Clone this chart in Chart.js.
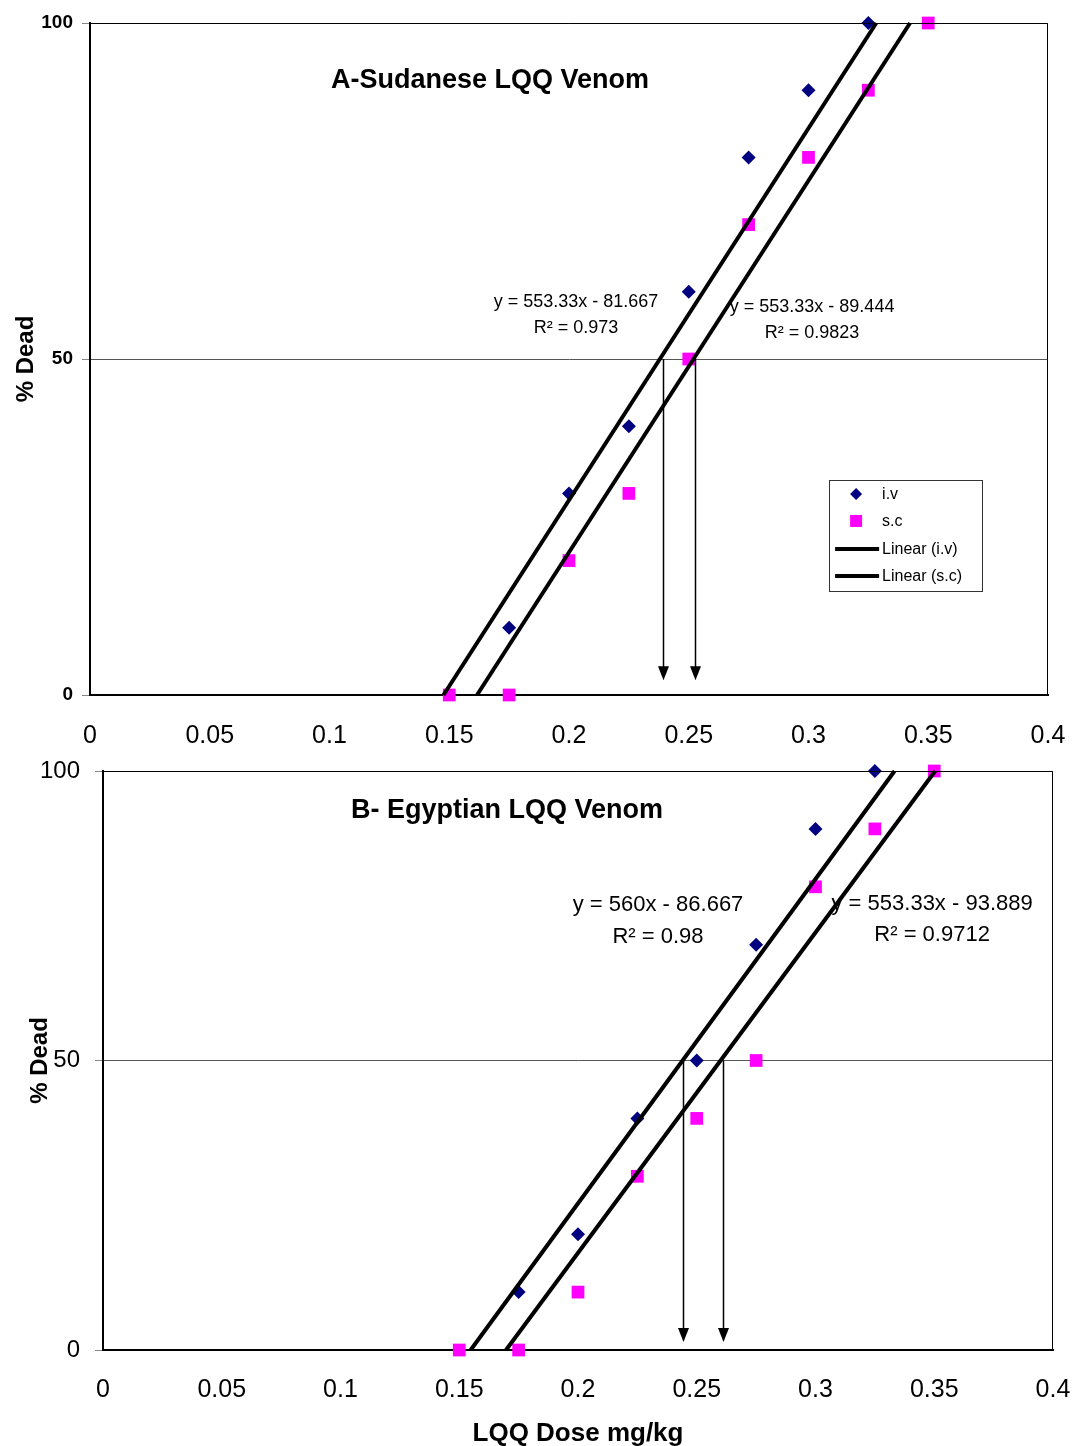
<!DOCTYPE html>
<html>
<head>
<meta charset="utf-8">
<script src="https://cdn.jsdelivr.net/npm/chart.js@4.4.1/dist/chart.umd.min.js"></script>
<style>
  html, body { margin: 0; padding: 0; background: #fff; }
  #wrap { position: relative; width: 1074px; height: 1446px; }
  canvas { position: absolute; left: 0; }
</style>
</head>
<body>
<div id="wrap">
  <canvas id="chartA" width="1074" height="760" style="top:0px"></canvas>
  <canvas id="chartB" width="1074" height="696" style="top:750px"></canvas>
</div>
<script>
const FONT = '"Liberation Sans", Arial, sans-serif';
Chart.defaults.font.family = FONT;
Chart.defaults.color = "#000";

// ---- A - Sudanese LQQ venom ----
const sudanDoseIV = [0.175, 0.2, 0.225, 0.25, 0.275, 0.3, 0.325];
const sudanDeadIV = [10, 30, 40, 60, 80, 90, 100];
const sudanDoseSC = [0.15, 0.175, 0.2, 0.225, 0.25, 0.275, 0.3, 0.325, 0.35];
const sudanDeadSC = [0, 0, 20, 30, 50, 70, 80, 90, 100];
// trendline ends (dose, % dead)
const sudanFitIV = [[0.1476, 0], [0.3283, 100]];
const sudanFitSC = [[0.1616, 0], [0.3424, 100]];
const sudanLD50 = [0.2391, 0.2525];

// ---- B - Egyptian LQQ venom ----
const egyptDoseIV = [0.175, 0.2, 0.225, 0.25, 0.275, 0.3, 0.325];
const egyptDeadIV = [10, 20, 40, 50, 70, 90, 100];
const egyptDoseSC = [0.15, 0.175, 0.2, 0.225, 0.25, 0.275, 0.3, 0.325, 0.35];
const egyptDeadSC = [0, 0, 10, 30, 40, 50, 80, 90, 100];
const egyptFitIV = [[0.1548, 0], [0.3333, 100]];
const egyptFitSC = [[0.1697, 0], [0.3504, 100]];
const egyptLD50 = [0.2443, 0.2609];

const legendLabels = ["i.v", "s.c", "Linear (i.v)", "Linear (s.c)"];

const toPts = (xs, ys) => xs.map((x, i) => ({ x: x, y: ys[i] }));

// no automatic padding for tick labels, layout.padding decides the plot box
function noAutoPad(s) {
  s.paddingLeft = 0;
  s.paddingRight = 0;
  s.paddingTop = 0;
  s.paddingBottom = 0;
}

// draws frame, LD50 arrows, title, equations and legend
const notesPlugin = {
  id: "notes",
  afterDatasetsDraw(chart, args, o) {
    const { ctx, chartArea: a } = chart;
    const x = chart.scales.x, y = chart.scales.y;
    ctx.save();

    // top + right frame
    ctx.strokeStyle = "#000";
    ctx.lineWidth = 1;
    ctx.beginPath();
    ctx.moveTo(a.left, a.top + 0.5);
    ctx.lineTo(a.right - 0.5, a.top + 0.5);
    ctx.lineTo(a.right - 0.5, a.bottom);
    ctx.stroke();

    // arrows down from 50%
    o.arrows.forEach((d) => {
      const px = Math.round(x.getPixelForValue(d)) + 0.5;
      const top = y.getPixelForValue(50);
      const tip = y.getPixelForValue(o.arrowTip);
      ctx.lineWidth = 1.5;
      ctx.beginPath();
      ctx.moveTo(px, top);
      ctx.lineTo(px, tip - 10);
      ctx.stroke();
      ctx.fillStyle = "#000";
      ctx.beginPath();
      ctx.moveTo(px, tip);
      ctx.lineTo(px - 5.5, tip - 14);
      ctx.lineTo(px + 5.5, tip - 14);
      ctx.closePath();
      ctx.fill();
    });

    ctx.textAlign = "center";
    ctx.textBaseline = "middle";
    ctx.fillStyle = "#000";

    ctx.font = "bold " + o.titleSize + "px " + FONT;
    ctx.fillText(o.title, x.getPixelForValue(o.titleAt[0]), y.getPixelForValue(o.titleAt[1]));

    ctx.font = o.eqSize + "px " + FONT;
    o.equations.forEach((e) => {
      ctx.fillText(e.text, x.getPixelForValue(e.at[0]), y.getPixelForValue(e.at[1]));
    });

    if (o.legendAt) {
      const lx = x.getPixelForValue(o.legendAt[0]);
      const ly = y.getPixelForValue(o.legendAt[1]);
      ctx.fillStyle = "#fff";
      ctx.fillRect(lx, ly, 153, 111);
      ctx.strokeStyle = "#333";
      ctx.lineWidth = 1;
      ctx.strokeRect(Math.round(lx) + 0.5, Math.round(ly) + 0.5, 153, 111);
      const rows = [14, 41, 69, 96];
      ctx.font = "16px " + FONT;
      ctx.textAlign = "left";
      rows.forEach((r, i) => {
        const cy = ly + r;
        if (i === 0) {
          ctx.fillStyle = "#000080";
          ctx.beginPath();
          ctx.moveTo(lx + 27, cy - 6);
          ctx.lineTo(lx + 33, cy);
          ctx.lineTo(lx + 27, cy + 6);
          ctx.lineTo(lx + 21, cy);
          ctx.closePath();
          ctx.fill();
        } else if (i === 1) {
          ctx.fillStyle = "#ff00ff";
          ctx.fillRect(lx + 21, cy - 6, 12, 12);
        } else {
          ctx.strokeStyle = "#000";
          ctx.lineWidth = 4;
          ctx.beginPath();
          ctx.moveTo(lx + 6, cy);
          ctx.lineTo(lx + 50, cy);
          ctx.stroke();
        }
        ctx.fillStyle = "#000";
        ctx.fillText(legendLabels[i], lx + 53, cy + 1);
      });
    }
    ctx.restore();
  },
};

function makeChart(id, d) {
  return new Chart(document.getElementById(id), {
    type: "scatter",
    data: {
      datasets: [
        {
          label: "Linear (i.v)",
          data: d.fitIV.map((p) => ({ x: p[0], y: p[1] })),
          showLine: true, borderColor: "#000", borderWidth: 4, pointRadius: 0, order: 0, clip: false,
        },
        {
          label: "Linear (s.c)",
          data: d.fitSC.map((p) => ({ x: p[0], y: p[1] })),
          showLine: true, borderColor: "#000", borderWidth: 4, pointRadius: 0, order: 0, clip: false,
        },
        {
          label: "i.v",
          data: toPts(d.doseIV, d.deadIV),
          pointStyle: "rectRot", pointRadius: 7, backgroundColor: "#000080", borderColor: "#000080",
          borderWidth: 0, order: 1, clip: false,
        },
        {
          label: "s.c",
          data: toPts(d.doseSC, d.deadSC),
          pointStyle: "rect", pointRadius: 9, backgroundColor: "#ff00ff", borderColor: "#ff00ff",
          borderWidth: 0, order: 1, clip: false,
        },
      ],
    },
    options: {
      responsive: false,
      animation: false,
      layout: { padding: d.pad },
      plugins: {
        legend: { display: false },
        tooltip: { enabled: false },
        notes: d.notes,
      },
      scales: {
        x: {
          type: "linear", min: 0, max: 0.4,
          ticks: {
            stepSize: 0.05, padding: d.xTickPad, font: { size: 25 },
            callback: (v) => String(+v.toFixed(2)),
          },
          grid: { display: false },
          border: { display: true, color: "#000", width: 2 },
          title: d.xTitle
            ? { display: true, text: d.xTitle, font: { size: 26, weight: "bold" }, padding: { top: 0, bottom: -3 } }
            : { display: false },
          afterFit: (s) => { s.height = d.xHeight; noAutoPad(s); },
        },
        y: {
          min: 0, max: 100,
          ticks: { stepSize: 50, padding: d.yTickPad, font: d.yTickFont },
          grid: { color: "#555", lineWidth: 1, tickLength: 8, tickColor: "#888" },
          border: { display: true, color: "#000", width: 2 },
          title: {
            display: true, text: "% Dead", font: { size: 24, weight: "bold" },
            padding: { top: d.yTitlePad, bottom: 0 },
          },
          afterFit: (s) => { s.width = d.yWidth; noAutoPad(s); },
        },
      },
    },
    plugins: [notesPlugin],
  });
}

makeChart("chartA", {
  doseIV: sudanDoseIV, deadIV: sudanDeadIV, doseSC: sudanDoseSC, deadSC: sudanDeadSC,
  fitIV: sudanFitIV, fitSC: sudanFitSC,
  pad: { top: 23, right: 26, left: 0, bottom: 0 },
  xTickPad: 18, xHeight: 65, yWidth: 90, yTickPad: 9, yTitlePad: 12,
  yTickFont: { size: 19, weight: "bold" },
  notes: {
    arrows: sudanLD50, arrowTip: 2.2,
    title: "A-Sudanese LQQ Venom", titleAt: [0.167, 91.4], titleSize: 27,
    eqSize: 18,
    equations: [
      { text: "y = 553.33x - 81.667", at: [0.2029, 58.5] },
      { text: "R² = 0.973", at: [0.2029, 54.6] },
      { text: "y = 553.33x - 89.444", at: [0.3015, 57.7] },
      { text: "R² = 0.9823", at: [0.3015, 53.9] },
    ],
    legendAt: [0.3086, 32.0],
  },
});

makeChart("chartB", {
  doseIV: egyptDoseIV, deadIV: egyptDeadIV, doseSC: egyptDoseSC, deadSC: egyptDeadSC,
  fitIV: egyptFitIV, fitSC: egyptFitSC,
  pad: { top: 21, right: 21, left: 0, bottom: 0 },
  xTickPad: 17, xHeight: 96, yWidth: 103, yTickPad: 15, yTitlePad: 25.6,
  yTickFont: { size: 24 },
  xTitle: "LQQ Dose mg/kg",
  notes: {
    arrows: egyptLD50, arrowTip: 1.4,
    title: "B- Egyptian LQQ Venom", titleAt: [0.1701, 93.1], titleSize: 27,
    eqSize: 22,
    equations: [
      { text: "y = 560x - 86.667", at: [0.2337, 76.9] },
      { text: "R² = 0.98", at: [0.2337, 71.3] },
      { text: "y = 553.33x - 93.889", at: [0.3491, 77.0] },
      { text: "R² = 0.9712", at: [0.3491, 71.7] },
    ],
    legendAt: null,
  },
});
</script>
</body>
</html>
